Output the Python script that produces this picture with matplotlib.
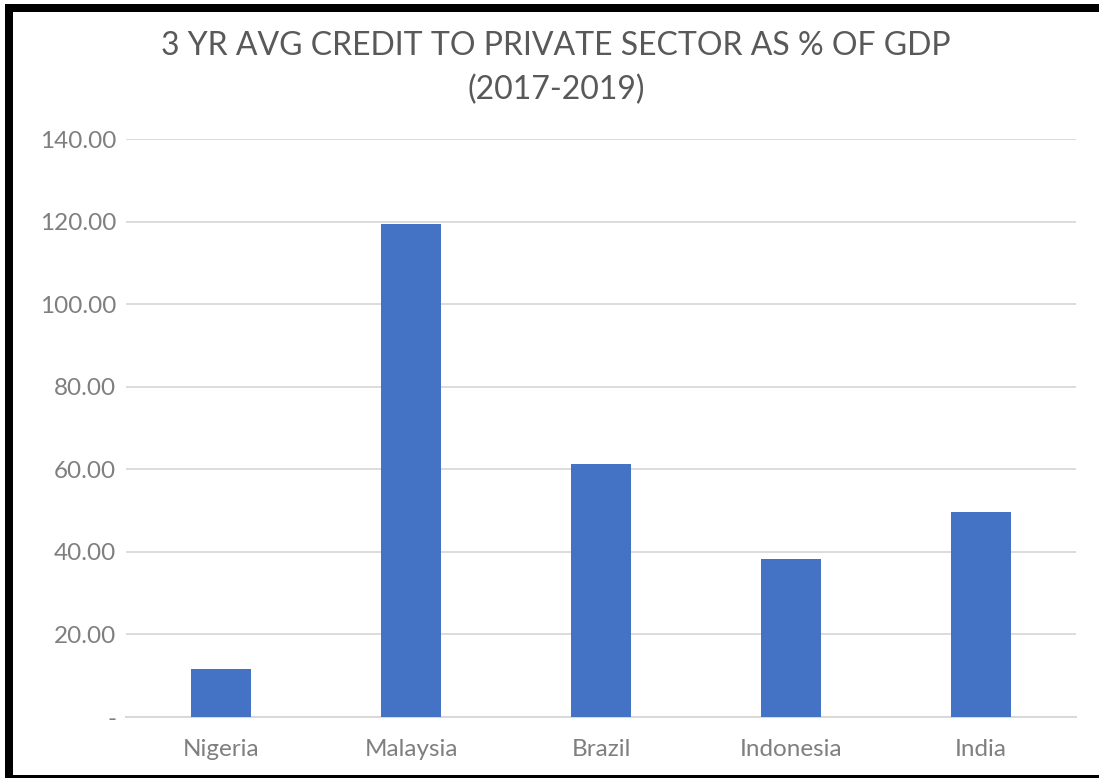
import matplotlib
matplotlib.use("Agg")
import matplotlib.pyplot as plt
from matplotlib.lines import Line2D

countries = ["Nigeria", "Malaysia", "Brazil", "Indonesia", "India"]
credit_pct = [11.6, 119.3, 61.3, 38.2, 49.6]
y_ticks = [0, 20, 40, 60, 80, 100, 120, 140]
title = "3 YR AVG CREDIT TO PRIVATE SECTOR AS % OF GDP\n(2017-2019)"

plt.rcParams["font.family"] = ["Lato", "DejaVu Sans"]

fig = plt.figure(figsize=(10.99, 7.78), dpi=100)
ax = fig.add_axes([0.1147, 0.0784, 0.8644, 0.7429])

ax.bar(range(len(countries)), credit_pct, width=0.316, color="#4472C4", zorder=3)

ax.set_xlim(-0.5, len(countries) - 0.5)
ax.set_ylim(0, 140)
ax.set_yticks(y_ticks)
ax.set_yticklabels(["-" if v == 0 else f"{v:.2f}" for v in y_ticks])
ax.set_xticks(range(len(countries)))
ax.set_xticklabels(countries)

ax.grid(axis="y", color="#D9D9D9", linewidth=1.3, zorder=0)
for side in ["top", "right", "left"]:
    ax.spines[side].set_visible(False)
ax.spines["bottom"].set_color("#D9D9D9")
ax.spines["bottom"].set_linewidth(1.5)
ax.tick_params(axis="both", length=0, colors="#7F7F7F", labelsize=17.5)
ax.tick_params(axis="y", pad=7)
ax.tick_params(axis="x", pad=16)

fig.text(0.506, 0.96, title, ha="center", va="top", fontsize=23,
         color="#595959", linespacing=1.55)

# frame on left, top and bottom edges
lw = 8 / 100 * 72
x0, y_top, y_bot = 9 / 1099, 1 - 8 / 778, 1 - 779 / 778
fig.add_artist(Line2D([x0, x0], [y_bot, y_top], transform=fig.transFigure,
                      color="black", linewidth=lw, solid_capstyle="projecting"))
fig.add_artist(Line2D([x0, 1.01], [y_top, y_top], transform=fig.transFigure,
                      color="black", linewidth=lw))
fig.add_artist(Line2D([x0, 1.01], [y_bot, y_bot], transform=fig.transFigure,
                      color="black", linewidth=lw))

fig.savefig("out.png", dpi=100, facecolor="white")
